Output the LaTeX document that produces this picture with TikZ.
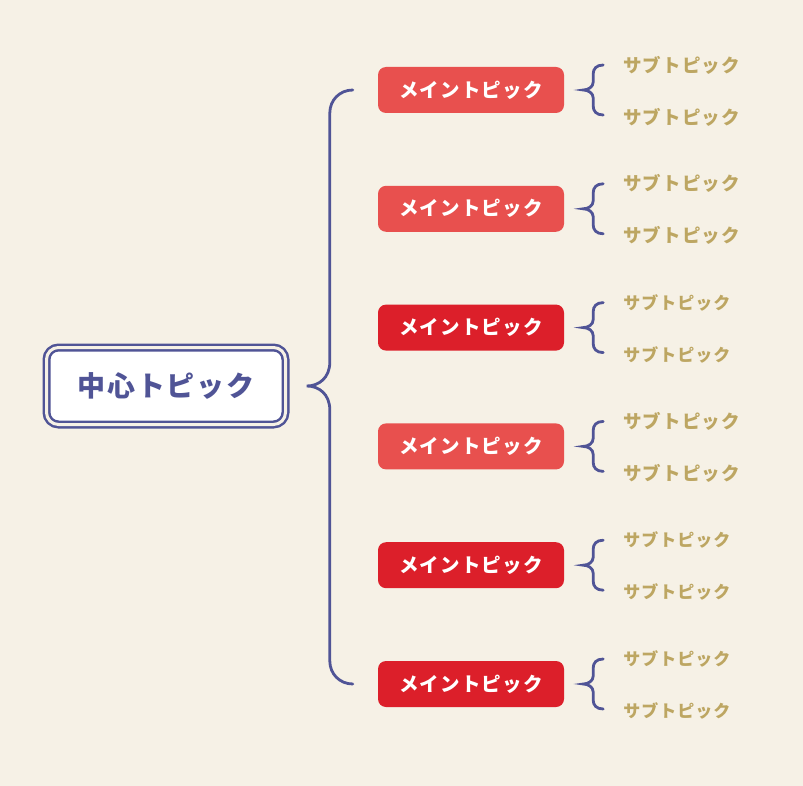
\documentclass[tikz,border=0pt]{standalone}
\usepackage{fontspec}
\newfontfamily\jpfont{Noto Sans CJK JP}[LetterSpace=6]
\usetikzlibrary{positioning,calc}
\definecolor{cream}{RGB}{246,241,230}
\definecolor{navy}{RGB}{80,84,150}
\definecolor{redlight}{RGB}{232,80,78}
\definecolor{reddark}{RGB}{220,31,42}
\definecolor{gold}{RGB}{189,166,98}
\tikzset{x=1pt, y=-1pt,
         central/.style={draw=navy, double=cream, double distance=3pt,
           line width=2.5pt, fill=white, rounded corners=12pt,
           minimum width=239pt, minimum height=77pt, text=navy,
           font=\jpfont\bfseries\fontsize{28}{30}\selectfont},
         main/.style={rounded corners=8pt, minimum width=186pt,
           minimum height=46pt, text=white, inner sep=0pt,
           font=\jpfont\bfseries\fontsize{19.5}{22}\selectfont},
         mainlight/.style={main, fill=redlight},
         maindark/.style={main, fill=reddark},
         sub/.style={text=gold, inner sep=0pt,
           font=\jpfont\bfseries\fontsize{18.5}{20}\selectfont},
         subsmall/.style={sub, font=\jpfont\bfseries\fontsize{17}{19}\selectfont},
         brace/.style={draw=navy, line width=2.8pt, line cap=round}}
\newcommand{\subbrace}[1]{%
  \draw[brace] ($(#1.east)+(39,-25)$) .. controls +(-7,0) and +(0,-5) .. ($(#1.east)+(29,-16)$)
    -- ($(#1.east)+(29,-8)$) .. controls +(0,5) and +(5,0) .. ($(#1.east)+(19,0)$)
    .. controls +(5,0) and +(0,-5) .. ($(#1.east)+(29,8)$)
    -- ($(#1.east)+(29,16)$) .. controls +(0,5) and +(-7,0) .. ($(#1.east)+(39,25)$);}
\begin{document}
\begin{tikzpicture}
	\fill[cream] (0,0) rectangle (803,786);
	\useasboundingbox (0,0) rectangle (803,786);
	\node[central] (c) at (166,386) {中心トピック};
	\node[mainlight] (m1) at (471,90) {メイントピック};
	\node[mainlight, below=72.4pt of m1] (m2) {メイントピック};
	\node[maindark, below=72.4pt of m2] (m3) {メイントピック};
	\node[mainlight, below=72.4pt of m3] (m4) {メイントピック};
	\node[maindark, below=72.4pt of m4] (m5) {メイントピック};
	\node[maindark, below=72.4pt of m5] (m6) {メイントピック};

	\node[sub, right=59pt of m1, yshift=25pt] (s1a) {サブトピック};
	\node[sub, right=59pt of m1, yshift=-27pt] (s1b) {サブトピック};
	\node[sub, right=59pt of m2, yshift=25pt] (s2a) {サブトピック};
	\node[sub, right=59pt of m2, yshift=-27pt] (s2b) {サブトピック};
	\node[subsmall, right=59pt of m3, yshift=25pt] (s3a) {サブトピック};
	\node[subsmall, right=59pt of m3, yshift=-27pt] (s3b) {サブトピック};
	\node[sub, right=59pt of m4, yshift=25pt] (s4a) {サブトピック};
	\node[sub, right=59pt of m4, yshift=-27pt] (s4b) {サブトピック};
	\node[subsmall, right=59pt of m5, yshift=25pt] (s5a) {サブトピック};
	\node[subsmall, right=59pt of m5, yshift=-27pt] (s5b) {サブトピック};
	\node[subsmall, right=59pt of m6, yshift=25pt] (s6a) {サブトピック};
	\node[subsmall, right=59pt of m6, yshift=-27pt] (s6b) {サブトピック};

	\coordinate (bt) at ($(m1.west)+(-25,0)$);
	\coordinate (bb) at ($(m6.west)+(-25,0)$);
	\coordinate (bx) at ($(bt)+(-23,0)$);
	\coordinate (bp) at ($(bx |- c.east)+(-23,0)$);
	\draw[brace] (bt) .. controls +(-13,0) and +(0,-13) .. ($(bx)+(0,23)$)
	  -- ($(bx |- bp)+(0,-24)$) .. controls +(0,16) and +(12,0) .. (bp)
	  .. controls +(12,0) and +(0,-16) .. ($(bx |- bp)+(0,24)$)
	  -- ($(bx |- bb)+(0,-23)$) .. controls +(0,13) and +(-13,0) .. (bb);

	\subbrace{m1}
	\subbrace{m2}
	\subbrace{m3}
	\subbrace{m4}
	\subbrace{m5}
	\subbrace{m6}
\end{tikzpicture}
\end{document}
